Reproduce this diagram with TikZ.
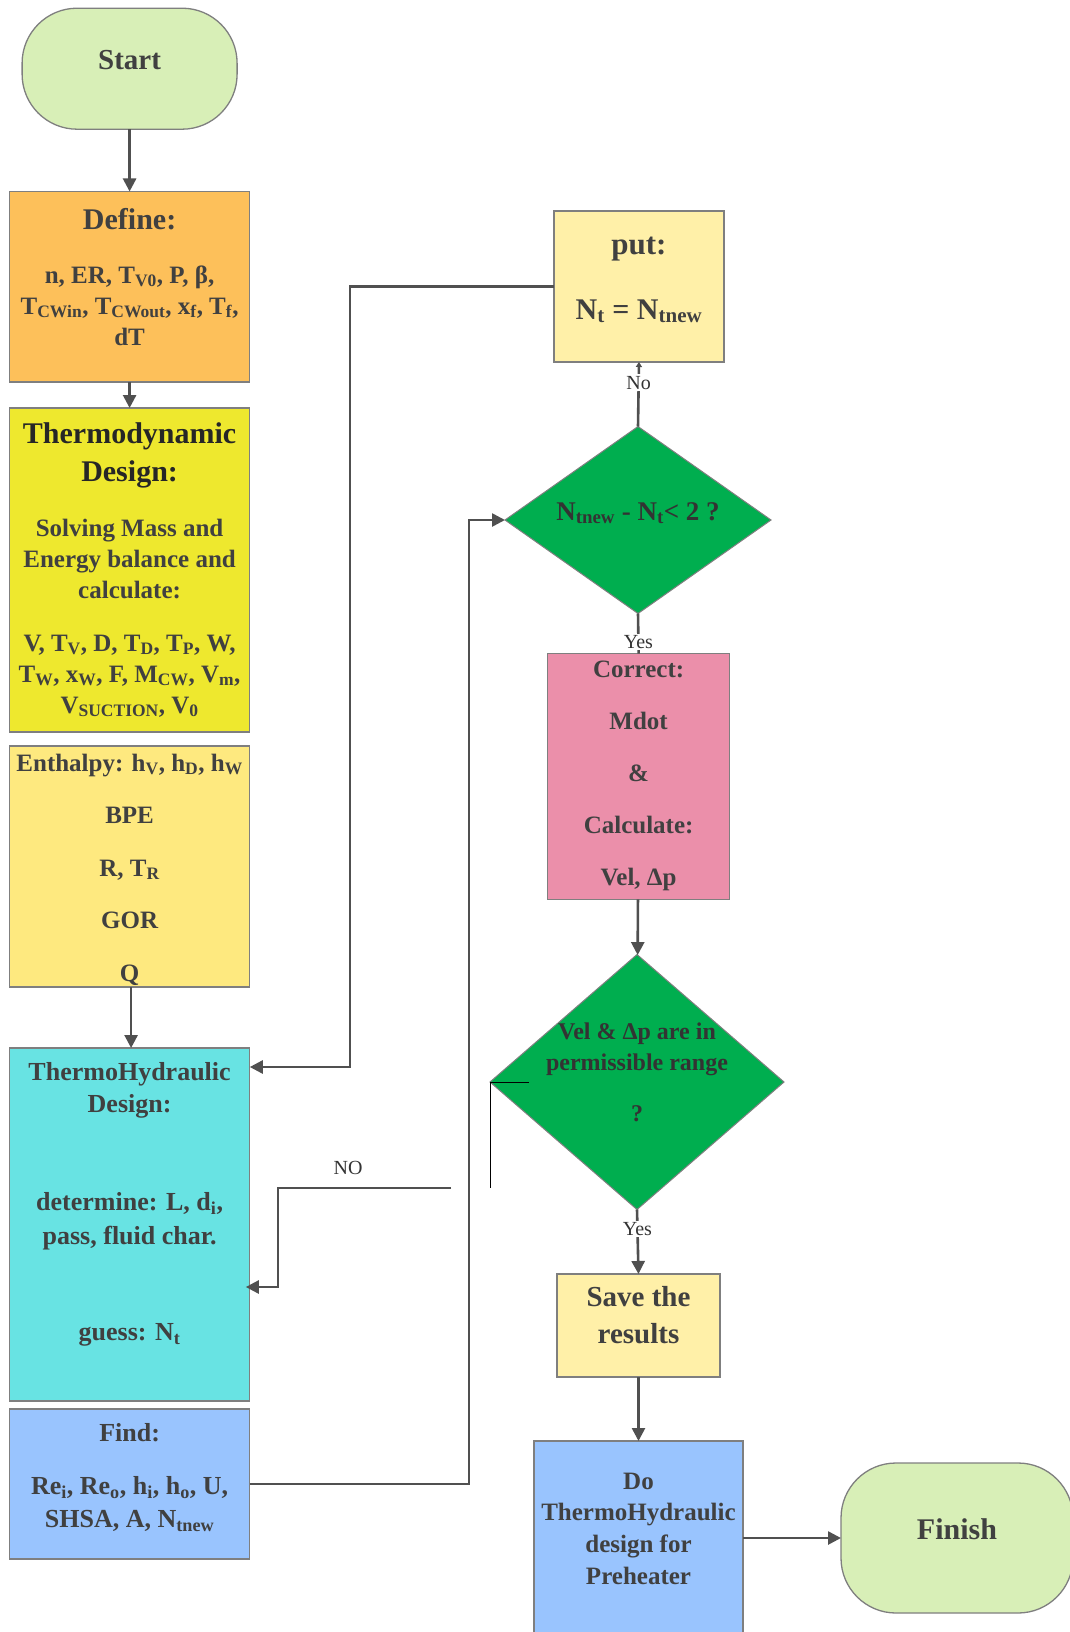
\documentclass[tikz,border=0pt]{standalone}
\usepackage{fontspec}
\setmainfont{Liberation Serif}
\usetikzlibrary{arrows.meta,shapes.geometric}

\definecolor{termgreen}{HTML}{D8EFB7}
\definecolor{defineorange}{HTML}{FDC05A}
\definecolor{thermoyellow}{HTML}{EEE82E}
\definecolor{enthyellow}{HTML}{FEE97F}
\definecolor{thcyan}{HTML}{68E3E3}
\definecolor{findblue}{HTML}{99C4FE}
\definecolor{putyellow}{HTML}{FFF0A8}
\definecolor{decgreen}{HTML}{00AE4F}
\definecolor{corrpink}{HTML}{EB8FAA}
\definecolor{txtgrey}{HTML}{404040}
\definecolor{linegrey}{HTML}{505050}
\definecolor{edgegrey}{HTML}{7F7F7F}

\newcommand{\lo}[1]{\textsubscript{#1}}
\newcommand{\boxtext}[4]{\parbox[c][#1][t]{#2}{\centering\rule{0pt}{#3}#4}}

\begin{document}
\begin{tikzpicture}[x=1pt,y=-1pt,
		blk/.style={draw=edgegrey,line width=1.3pt,inner sep=0pt,outer sep=0pt,text=txtgrey,font=\fontsize{25}{31}\selectfont\bfseries},
		term/.style={blk,fill=termgreen,rounded corners=55pt},
		dec/.style={diamond,draw=edgegrey,line width=1pt,fill=decgreen,inner sep=0pt,outer sep=0pt,text=black!80,font=\fontsize{27}{31}\selectfont\bfseries},
		conn/.style={draw=linegrey,line width=2.6pt},
		arr/.style={conn,-{Triangle[width=13pt,length=13pt]}},
		lbl/.style={fill=white,inner sep=1.5pt,text=black!80,font=\fontsize{20}{24}\selectfont}]
	\useasboundingbox (0,0) rectangle (1070,1632);

	% left column
	\node[term,minimum width=215pt,minimum height=121pt,text height=10pt,text depth=9pt,font=\fontsize{29}{31}\selectfont\bfseries] (start) at (129.6,68.7) {Start};
	\node[blk,fill=defineorange] (define) at (129.6,286.75) {\boxtext{190.5pt}{240.4pt}{37.5pt}{{\fontsize{30}{31}\selectfont Define:}\\[23pt]
		n, ER, T\lo{V0}, P, β,\\ T\lo{CWin}, T\lo{CWout}, x\lo{f}, T\lo{f},\\ dT}};
	\node[blk,fill=thermoyellow] (thermo) at (129.6,570) {\boxtext{324pt}{240.4pt}{35pt}{{\color{black!85}\fontsize{30}{31}\selectfont Thermodynamic\\[7.5pt] Design:}\\[23.5pt]
		Solving Mass and\\ Energy balance and\\ calculate:\\[22pt]
		V, T\lo{V}, D, T\lo{D}, T\lo{P}, W,\\ T\lo{W}, x\lo{W}, F, M\lo{CW}, V\lo{m},\\ V\lo{SUCTION}, V\lo{0}}};
	\node[blk,fill=enthyellow] (enth) at (129.6,866.5) {\boxtext{241pt}{240.4pt}{25pt}{Enthalpy: h\lo{V}, h\lo{D}, h\lo{W}\\[21.5pt] BPE\\[21.5pt] R, T\lo{R}\\[21.5pt] GOR\\[21.5pt] Q}};
	\node[blk,fill=thcyan,font=\fontsize{26}{32}\selectfont\bfseries] (th) at (129.6,1224.5) {\boxtext{353pt}{240.4pt}{32.5pt}{ThermoHydraulic\\ Design:\\[66pt]
		determine: L, d\lo{i},\\[1.5pt] pass, fluid char.\\[64.5pt] guess: N\lo{t}}};
	\node[blk,fill=findblue,font=\fontsize{26}{32}\selectfont\bfseries] (find) at (129.6,1484) {\boxtext{150pt}{240.4pt}{32.5pt}{Find:\\[21pt]
		Re\lo{i}, Re\lo{o}, h\lo{i}, h\lo{o}, U,\\[1pt] SHSA, A, N\lo{tnew}}};

	% right column
	\node[blk,fill=putyellow] (put) at (639,286.5) {\boxtext{151pt}{170pt}{43.5pt}{{\fontsize{31}{31}\selectfont put:}\\[33.5pt] {\fontsize{30}{31}\selectfont N\lo{t} = N\lo{tnew}}}};
	\node[dec,minimum width=266pt,minimum height=187pt] (d1) at (638,520) {\smash{N\lo{tnew} - N\lo{t}< 2 ?}};
	\node[blk,fill=corrpink] (corr) at (638.6,776.5) {\boxtext{245.6pt}{182pt}{23.6pt}{Correct:\\[21pt] Mdot\\[21pt] \&\\[21pt] Calculate:\\[21pt] Vel, Δp}};
	\node[dec,minimum width=294pt,minimum height=255pt,font=\fontsize{24}{30.5}\selectfont\bfseries] (d2) at (637,1082) {\smash{\raisebox{42.5pt}{\parbox[t]{220pt}{\centering Vel \& Δp are in\\ permissible range\\[20.5pt] ?}}}};
	\node[blk,fill=putyellow,font=\fontsize{29}{36.5}\selectfont\bfseries] (save) at (638.5,1325.5) {\boxtext{103pt}{163pt}{32.6pt}{Save the\\ results}};
	\node[blk,fill=findblue] (do) at (638.5,1545.5) {\boxtext{209pt}{209pt}{48.3pt}{Do\\[0.5pt] ThermoHydraulic\\[0.5pt] design for\\[1pt] Preheater}};
	\node[term,minimum width=232pt,minimum height=150pt,text height=10pt,text depth=8pt,font=\fontsize{30}{31}\selectfont\bfseries] (finish) at (957,1538) {Finish};

	% connectors
	\draw[arr] (start) -- (define);
	\draw[arr] (define) -- (thermo);
	\draw[arr] ([xshift=1.5pt]enth.south) -- ([xshift=1.5pt]th.north);
	\draw[arr] (find.east) -| ([xshift=-36pt]d1.west) -- (d1.west);
	\draw[conn,-{Triangle[width=6pt,length=5pt]}] (d1.north) -- (put.south) node[lbl,pos=0.68] (no1) {No};
	\draw[arr] (put.west) -| ([xshift=100pt,yshift=-19pt]th.north east) -- ([yshift=-19pt]th.north east);
	\draw[conn] (d1.south) -- (corr.north) node[lbl,pos=0.7] (yes1) {Yes};
	\draw[arr] (corr) -- (d2);
	\draw[arr] (d2.south) -- (save.north) node[lbl,pos=0.3] (yes2) {Yes};
	\draw[arr] (save) -- (do);
	\draw[arr] (do.east |- finish.west) -- (finish.west);

	\coordinate (nofree) at (451,1188);
	\draw[arr] (nofree) -| ([xshift=28pt,yshift=-62.5pt]th.east) -- ([xshift=-4pt,yshift=-62.5pt]th.east);
	\node[lbl,fill=none] (nolbl) at (348,1168) {NO};
	\draw[black,line width=1pt] ([xshift=39pt]d2.west) -- (d2.west) -- (d2.west |- nofree);
\end{tikzpicture}
\end{document}
